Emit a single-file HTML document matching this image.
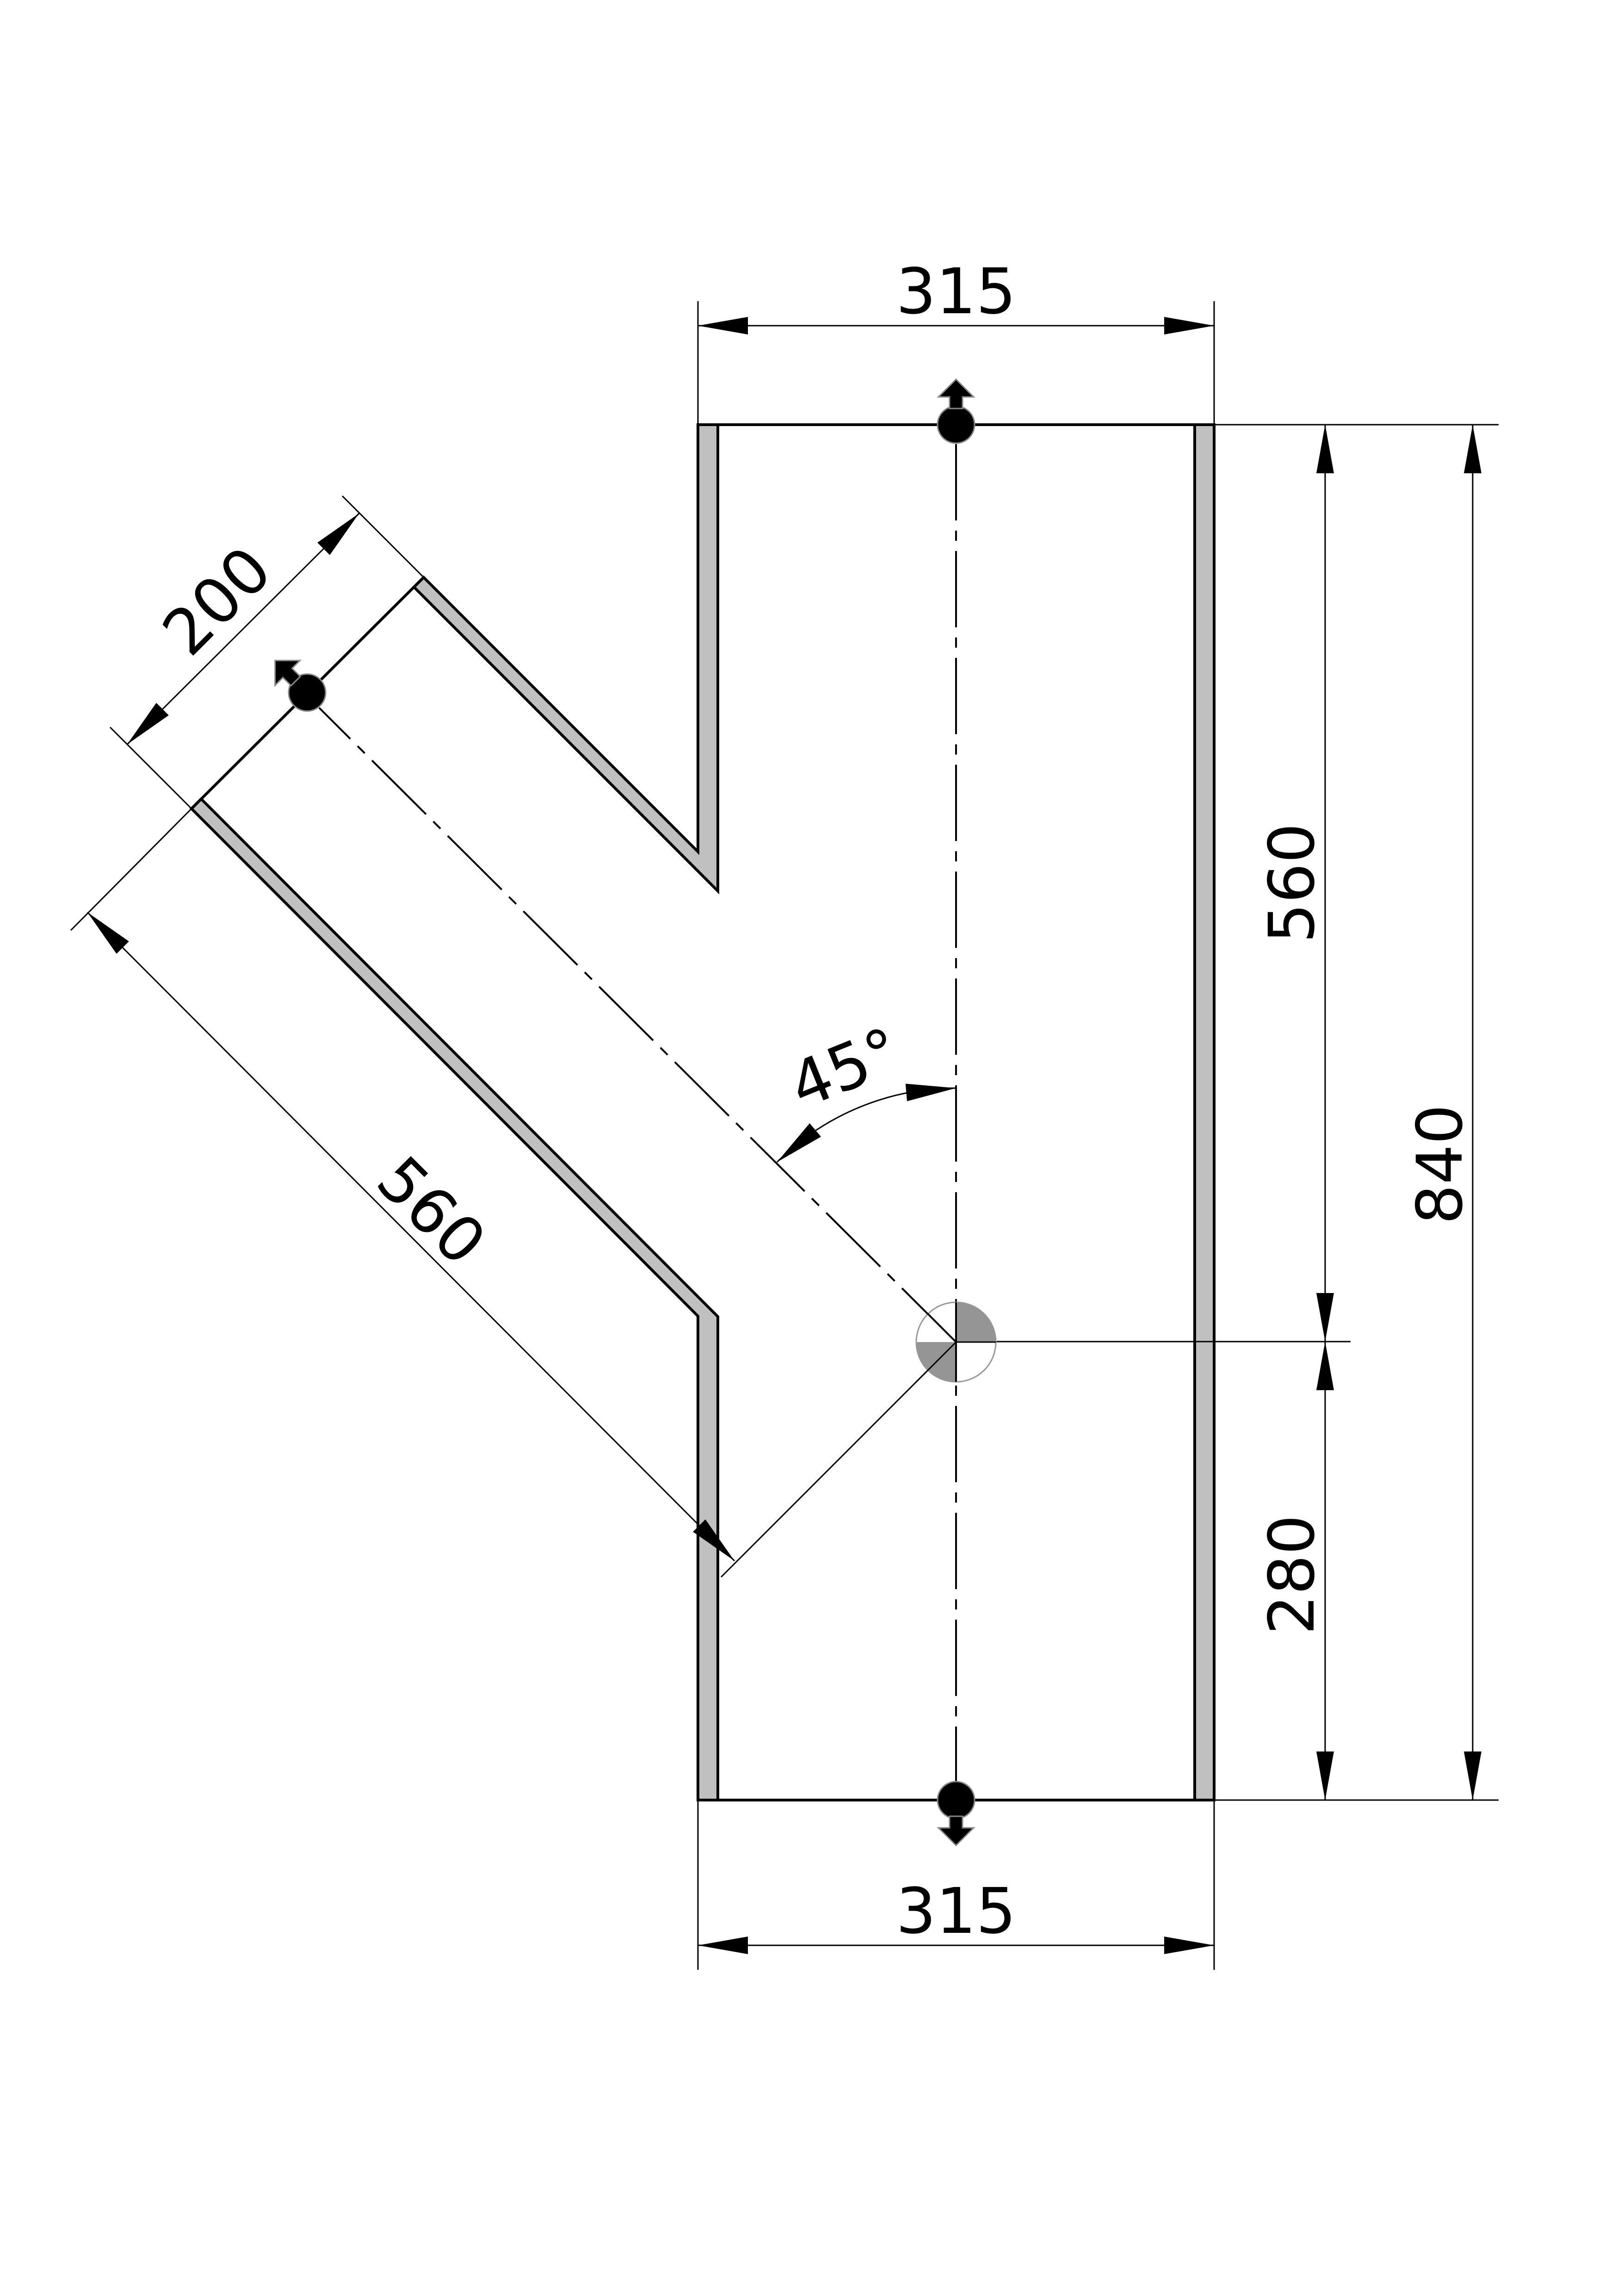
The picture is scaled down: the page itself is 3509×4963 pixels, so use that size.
<!DOCTYPE html>
<html><head><meta charset="utf-8"><style>html,body{margin:0;padding:0;background:#fff}svg{display:block}</style></head>
<body>
<svg xmlns="http://www.w3.org/2000/svg" width="3509" height="4963" viewBox="0 0 3509 4963">
<rect width="3509" height="4963" fill="#fff"/>
<g font-family="DejaVu Sans, Liberation Sans, sans-serif" font-size="136" fill="#000">
<g fill="#c0c0c0" stroke="#000" stroke-width="6" stroke-linejoin="miter">
<rect x="2583" y="918" width="42" height="2973"/>
<polygon points="1509,918 1552,918 1552,1926 895,1269 916,1248 1509,1841"/>
<polygon points="414,1748 435,1727 1552,2846 1552,3891 1509,3891 1509,2845"/>
</g>
<g stroke="#000" stroke-width="6" fill="none">
<line x1="1509" y1="918" x2="2625" y2="918"/>
<line x1="1509" y1="3891" x2="2625" y2="3891"/>
<line x1="916" y1="1248" x2="414" y2="1748"/>
</g>
<g stroke="#000" stroke-width="4" fill="none" stroke-dasharray="165,22,22,22">
<line x1="2067" y1="960" x2="2067" y2="3880"/>
<line x1="2067" y1="2901" x2="690" y2="1530"/>
</g>
<g stroke="#000" stroke-width="3" fill="none">
<line x1="1509" y1="651" x2="1509" y2="918"/>
<line x1="2625" y1="651" x2="2625" y2="918"/>
<line x1="1509" y1="704" x2="2625" y2="704"/>
<line x1="1509" y1="3891" x2="1509" y2="4258"/>
<line x1="2625" y1="3891" x2="2625" y2="4258"/>
<line x1="1509" y1="4205" x2="2625" y2="4205"/>
<line x1="2625" y1="918" x2="3240" y2="918"/>
<line x1="2625" y1="3891" x2="3240" y2="3891"/>
<line x1="2067" y1="2900" x2="2920" y2="2900"/>
<line x1="2865" y1="918" x2="2865" y2="3891"/>
<line x1="3184" y1="918" x2="3184" y2="3891"/>
<line x1="916" y1="1248" x2="740" y2="1072"/>
<line x1="414" y1="1748" x2="238" y2="1572"/>
<line x1="776" y1="1110" x2="275" y2="1609"/>
<line x1="414" y1="1748" x2="153" y2="2011"/>
<line x1="2067" y1="2901" x2="1559" y2="3409"/>
<line x1="189" y1="1972" x2="1588" y2="3374"/>
<path d="M2067,2352 A549,549 0 0 0 1680,2512"/>
</g>
<g fill="#000">
<polygon points="1509,704 1617,685 1617,723"/>
<polygon points="2625,704 2517,685 2517,723"/>
<polygon points="1509,4205 1617,4186 1617,4224"/>
<polygon points="2625,4205 2517,4186 2517,4224"/>
<polygon points="2865,918 2846,1023 2884,1023"/>
<polygon points="2865,2900 2846,2795 2884,2795"/>
<polygon points="2865,2900 2846,3005 2884,3005"/>
<polygon points="2865,3891 2846,3786 2884,3786"/>
<polygon points="3184,918 3165,1023 3203,1023"/>
<polygon points="3184,3891 3165,3786 3203,3786"/>
<g transform="translate(776,1110) rotate(135)"><polygon points="0,0 108,-19 108,19"/></g>
<g transform="translate(275,1609) rotate(-45)"><polygon points="0,0 108,-19 108,19"/></g>
<g transform="translate(189,1972) rotate(45)"><polygon points="0,0 108,-19 108,19"/></g>
<g transform="translate(1588,3374) rotate(225)"><polygon points="0,0 108,-19 108,19"/></g>
<g transform="translate(2067,2352) rotate(175)"><polygon points="0,0 108,-19 108,19"/></g>
<g transform="translate(1680,2512) rotate(-40)"><polygon points="0,0 108,-19 108,19"/></g>
</g>
<circle cx="2067" cy="2901" r="86" fill="#fff" stroke="#999" stroke-width="3"/>
<path d="M2067,2901 L2067,2815 A86,86 0 0 1 2153,2901 Z" fill="#959595"/>
<path d="M2067,2901 L2067,2987 A86,86 0 0 1 1981,2901 Z" fill="#959595"/>
<line x1="2067" y1="2815" x2="2067" y2="2987" stroke="#000" stroke-width="4"/>
<line x1="2067" y1="2901" x2="2153" y2="2901" stroke="#000" stroke-width="3"/>
<line x1="2067" y1="2901" x2="2005" y2="2839" stroke="#000" stroke-width="4"/>
<line x1="2067" y1="2901" x2="1980" y2="2988" stroke="#000" stroke-width="3"/>
<g fill="#000" stroke="#888" stroke-width="3">
<g transform="translate(2067,918)"><circle r="40"/><polygon points="-14,-35 -14,-60 -38,-60 0,-98 38,-60 14,-60 14,-35"/></g>
<g transform="translate(2067,3891) rotate(180)"><circle r="40"/><polygon points="-14,-35 -14,-60 -38,-60 0,-98 38,-60 14,-60 14,-35"/></g>
<g transform="translate(664,1497) rotate(-45)"><circle r="40"/><polygon points="-14,-35 -14,-60 -38,-60 0,-98 38,-60 14,-60 14,-35"/></g>
</g>
<text x="2067" y="677" text-anchor="middle">315</text>
<text x="2067" y="4178" text-anchor="middle">315</text>
<text transform="translate(2840,1909) rotate(-90)" text-anchor="middle">560</text>
<text transform="translate(2840,3404) rotate(-90)" text-anchor="middle">280</text>
<text transform="translate(3160,2517) rotate(-90)" text-anchor="middle">840</text>
<text transform="translate(470,1300) rotate(-45)" text-anchor="middle" dominant-baseline="central">200</text>
<text transform="translate(932,2618) rotate(45)" text-anchor="middle" dominant-baseline="central">560</text>
<text transform="translate(1827,2310) rotate(-22)" text-anchor="middle" dominant-baseline="central">45°</text>
</g>
</svg>
</body></html>
